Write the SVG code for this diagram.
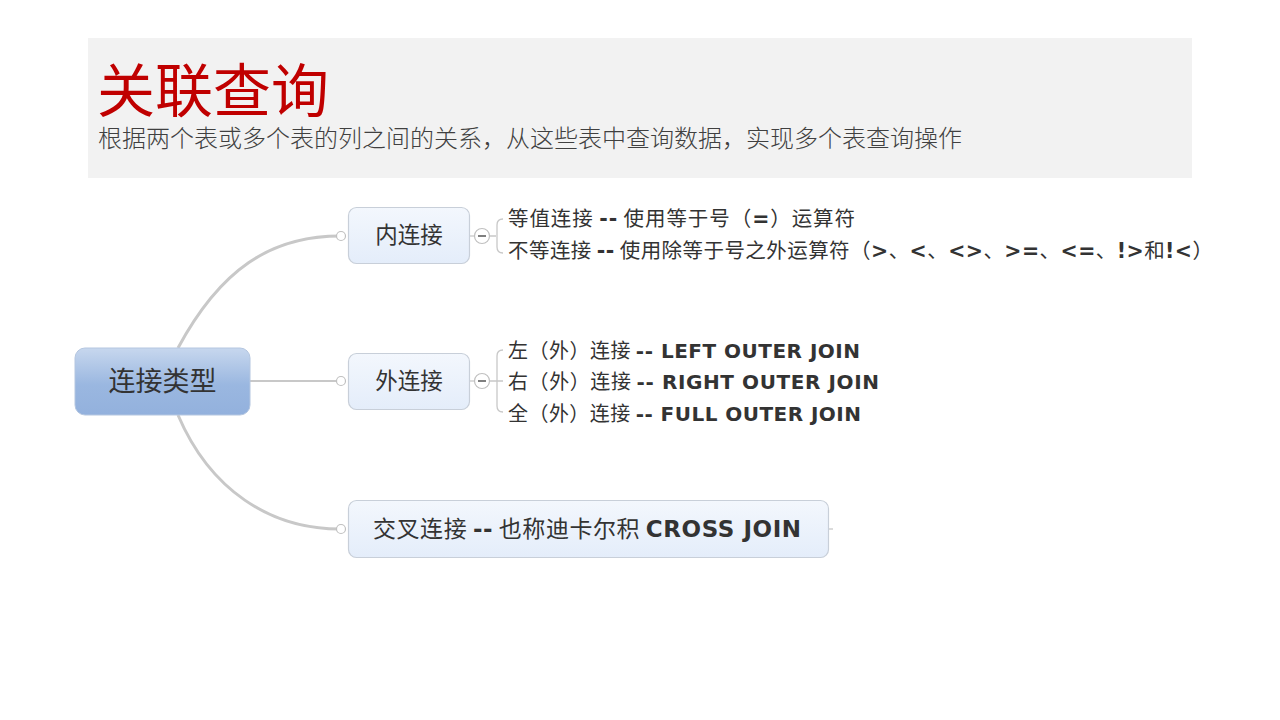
<svg xmlns="http://www.w3.org/2000/svg" width="1280" height="720" viewBox="0 0 1280 720">
<defs>
<linearGradient id="gRoot" x1="0" y1="0" x2="0" y2="1">
<stop offset="0" stop-color="#c7d7ee"/>
<stop offset="0.55" stop-color="#9ab7e0"/>
<stop offset="1" stop-color="#93b1dd"/>
</linearGradient>
<linearGradient id="gNode" x1="0" y1="0" x2="0" y2="1">
<stop offset="0" stop-color="#f3f7fd"/>
<stop offset="1" stop-color="#e4edfa"/>
</linearGradient>
<style>
.cjk{font-family:"Noto Sans CJK SC","Noto Sans",sans-serif;}
.b{font-family:"DejaVu Sans","Noto Sans CJK SC",sans-serif;font-weight:bold;}
.conn{fill:none;stroke:#c8c8c8;stroke-width:3;}
.thin{fill:none;stroke:#c8c8c8;stroke-width:1.3;}
.dot{fill:#ffffff;stroke:#c0c0c0;stroke-width:1.2;}
.node{fill:url(#gNode);stroke:#c8cfd9;stroke-width:1.2;}
.lbl{fill:#333333;}
</style>
</defs>
<rect x="0" y="0" width="1280" height="720" fill="#ffffff"/>
<g id="header">
<rect x="88" y="38" width="1104" height="140" fill="#f2f2f2"/>
<text x="97" y="112" class="cjk" font-size="58" fill="#c00000">关联查询</text>
<text x="98" y="147" class="cjk" font-size="24" fill="#404040" font-weight="300">根据两个表或多个表的列之间的关系，从这些表中查询数据，实现多个表查询操作</text>
</g>
<g id="connectors">
<path class="conn" d="M178,348 C220,270 270,236 340,236"/>
<path class="conn" d="M250,381 L340,381" style="stroke-width:2"/>
<path class="conn" d="M178,415 C210,490 270,529 340,529"/>
<circle class="dot" cx="341" cy="236" r="4.5"/>
<circle class="dot" cx="341" cy="381" r="4.5"/>
<circle class="dot" cx="341" cy="529" r="4.5"/>
<path class="thin" d="M828,529 L833,529"/>
<line class="thin" x1="469" y1="236" x2="475" y2="236"/>
<circle class="dot" cx="482" cy="236" r="7.5"/>
<line x1="478" y1="236" x2="486" y2="236" stroke="#555" stroke-width="1.5"/>
<path class="thin" d="M489.5,236 L496,236 M503,219 Q497,219 497,225 L497,247 Q497,253 503,253"/>
<line class="thin" x1="469" y1="381" x2="475" y2="381"/>
<circle class="dot" cx="482" cy="381" r="7.5"/>
<line x1="478" y1="381" x2="486" y2="381" stroke="#555" stroke-width="1.5"/>
<path class="thin" d="M489.5,381 L503,381 M503,350 Q497,350 497,356 L497,406 Q497,412 503,412"/>
</g>
<g id="root">
<rect x="75" y="348" width="175" height="67" rx="10" fill="url(#gRoot)" stroke="#b4c6e0" stroke-width="1"/>
<text x="162.5" y="391" text-anchor="middle" class="cjk lbl" font-size="27">连接类型</text>
</g>
<g id="inner">
<rect class="node" x="348.5" y="207.5" width="121" height="56" rx="8"/>
<text x="409" y="243" text-anchor="middle" class="cjk lbl" font-size="22.5">内连接</text>
</g>
<g id="inner-items">
<text x="508" y="226" font-size="20.5" class="lbl" textLength="347" lengthAdjust="spacing"><tspan class="cjk">等值连接 </tspan><tspan class="b">--</tspan><tspan class="cjk"> 使用等于号（</tspan><tspan class="b">=</tspan><tspan class="cjk">）运算符</tspan></text>
<text x="508" y="258" font-size="20.5" class="lbl" textLength="705" lengthAdjust="spacing"><tspan class="cjk">不等连接 </tspan><tspan class="b">--</tspan><tspan class="cjk"> 使用除等于号之外运算符（</tspan><tspan class="b">&gt;</tspan><tspan class="cjk">、</tspan><tspan class="b">&lt;</tspan><tspan class="cjk">、</tspan><tspan class="b">&lt;&gt;</tspan><tspan class="cjk">、</tspan><tspan class="b">&gt;=</tspan><tspan class="cjk">、</tspan><tspan class="b">&lt;=</tspan><tspan class="cjk">、</tspan><tspan class="b">!&gt;</tspan><tspan class="cjk">和</tspan><tspan class="b">!&lt;</tspan><tspan class="cjk">）</tspan></text>
</g>
<g id="outer">
<rect class="node" x="348.5" y="353.5" width="121" height="56" rx="8"/>
<text x="409" y="389" text-anchor="middle" class="cjk lbl" font-size="22.5">外连接</text>
</g>
<g id="outer-items">
<text x="508" y="358" font-size="20" class="lbl" textLength="352" lengthAdjust="spacing"><tspan class="cjk">左（外）连接 </tspan><tspan class="b">-- LEFT OUTER JOIN</tspan></text>
<text x="508" y="389" font-size="20" class="lbl" textLength="371" lengthAdjust="spacing"><tspan class="cjk">右（外）连接 </tspan><tspan class="b">-- RIGHT OUTER JOIN</tspan></text>
<text x="508" y="421" font-size="20" class="lbl" textLength="353" lengthAdjust="spacing"><tspan class="cjk">全（外）连接 </tspan><tspan class="b">-- FULL OUTER JOIN</tspan></text>
</g>
<g id="cross">
<rect class="node" x="348.5" y="500.5" width="480" height="57" rx="8"/>
<text x="373" y="537" font-size="23" class="lbl" textLength="428" lengthAdjust="spacing"><tspan class="cjk">交叉连接 </tspan><tspan class="b">--</tspan><tspan class="cjk"> 也称迪卡尔积 </tspan><tspan class="b">CROSS JOIN</tspan></text>
</g>
</svg>
